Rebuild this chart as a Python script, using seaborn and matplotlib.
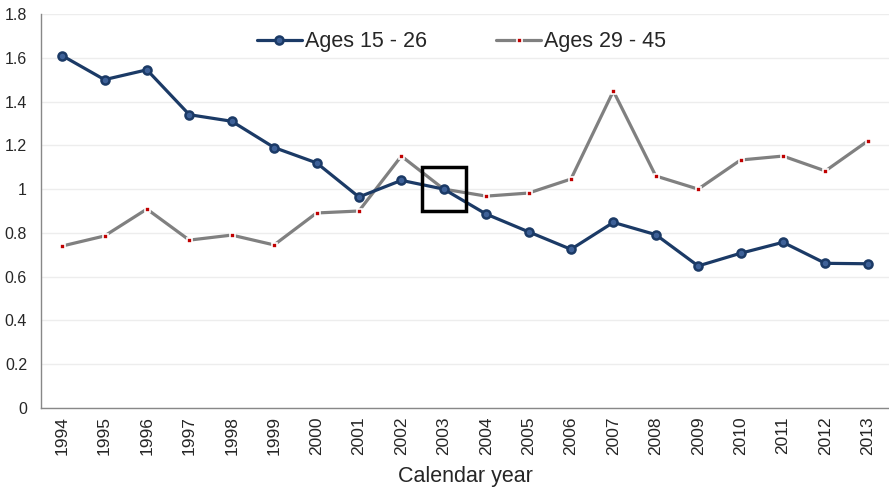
import numpy as np
import pandas as pd
import matplotlib
matplotlib.use('Agg')
import matplotlib.pyplot as plt
from matplotlib.ticker import FixedLocator, NullFormatter
import seaborn as sns

years = [str(y) for y in range(1994, 2014)]
ages_15_26 = [1.61, 1.50, 1.545, 1.34, 1.31, 1.19, 1.12, 0.964, 1.04, 1.00,
              0.886, 0.805, 0.725, 0.848, 0.792, 0.649, 0.707, 0.757, 0.661, 0.659]
ages_29_45 = [0.74, 0.786, 0.909, 0.767, 0.79, 0.745, 0.891, 0.90, 1.151, 1.00,
              0.968, 0.982, 1.046, 1.448, 1.06, 1.00, 1.133, 1.151, 1.083, 1.22]
highlight_year = '2003'

sns.set_style('white')
plt.rcParams['font.family'] = ['Liberation Sans', 'DejaVu Sans']

df = pd.DataFrame({'idx': np.arange(len(years)), 'year': years,
                   'young': ages_15_26, 'older': ages_29_45})

fig = plt.figure(figsize=(8.89, 4.91), dpi=100)
ax = fig.add_axes([0.046, 0.169, 0.954, 0.8025])

navy = '#1B3A66'
sns.lineplot(data=df, x='idx', y='older', ax=ax, color='#808080', lw=2.3,
             marker='s', markersize=3.6, markerfacecolor='#C00000',
             markeredgecolor='white', markeredgewidth=1.2, label='Ages 29 - 45', zorder=3)
sns.lineplot(data=df, x='idx', y='young', ax=ax, color=navy, lw=2.3,
             marker='o', markersize=5.8, markerfacecolor='#3E6198',
             markeredgecolor=navy, markeredgewidth=1.8, label='Ages 15 - 26', zorder=4)

# box around the crossing point
hi = years.index(highlight_year)
ax.plot([hi], [ages_15_26[hi]], marker='s', markersize=31, markerfacecolor='none',
        markeredgecolor='black', markeredgewidth=2.5, zorder=5)

ax.set_xlim(-0.5, len(years) - 0.5)
ax.set_ylim(0, 1.8)
yt = np.round(np.arange(0, 1.81, 0.2), 1)
ax.set_yticks(yt)
ax.set_yticklabels([f'{v:g}' for v in yt], fontsize=11.5)
ax.yaxis.grid(True, color='#EDEDED', lw=1)
ax.set_axisbelow(True)

# category ticks between years, labels at centers
ax.xaxis.set_major_locator(FixedLocator(np.arange(-0.5, len(years), 1.0)))
ax.xaxis.set_major_formatter(NullFormatter())
ax.xaxis.set_minor_locator(FixedLocator(np.arange(len(years))))
ax.set_xticklabels(years, minor=True, rotation=90, fontsize=12.5)
ax.tick_params(axis='x', which='major', length=5, color='#888888', width=1)
ax.tick_params(axis='x', which='minor', length=0, pad=6)
ax.tick_params(axis='y', length=4, color='#888888', width=1, pad=6)

for side in ['top', 'right']:
    ax.spines[side].set_visible(False)
for side in ['left', 'bottom']:
    ax.spines[side].set_color('#888888')
    ax.spines[side].set_linewidth(1)

ax.set_xlabel('Calendar year', fontsize=15.5, labelpad=8)
ax.set_ylabel('')

handles, labels = ax.get_legend_handles_labels()
ax.legend(handles[::-1], labels[::-1], ncol=2, frameon=False, fontsize=15.5,
          loc='center', bbox_to_anchor=(461.5 / 889, 1 - 42 / 491),
          bbox_transform=fig.transFigure, handlelength=2.1, handletextpad=0.15,
          columnspacing=3.2)

fig.savefig('out.png', dpi=100)
